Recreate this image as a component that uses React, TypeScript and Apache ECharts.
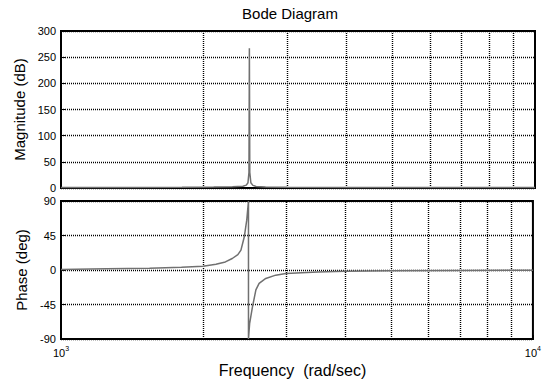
import React, { useEffect, useRef } from "react";
import * as echarts from "echarts";

// Magnitude trace (frequency in rad/sec, magnitude in dB)
const magFreq = [1000, 1400, 1800, 2100, 2300, 2420, 2460, 2480, 2492, 2497, 2502, 2515, 2540, 2580, 2700, 3000, 4000, 6000, 10000];
const magDb = [0.8, 1.0, 1.3, 1.7, 2.2, 3.2, 5.5, 10, 30, 267, 30, 10, 5, 3, 2.0, 1.5, 1.1, 0.9, 0.8];

// Phase trace (frequency in rad/sec, phase in deg)
const phaseFreq = [1000, 1250, 1540, 1800, 2000, 2130, 2230, 2306, 2370, 2406, 2445, 2475, 2496, 2496, 2510, 2545, 2588, 2629, 2716, 2851, 2994, 3500, 4006, 5000, 7000, 10000];
const phaseDeg = [0.8, 1.5, 2.4, 3.6, 5.0, 7.6, 10.5, 15, 20, 26, 43, 65, 90, -90, -70, -48, -26, -17.5, -11, -6.7, -4.5, -2.5, -1.5, -1.0, -0.6, -0.3];

// Minor decade grid lines
const minorGridFreq = [2000, 3000, 4000, 5000, 6000, 7000, 8000, 9000];

const FONT = "Liberation Sans, Arial, Helvetica, sans-serif";
const LINE_COLOR = "#707070";

export default function App() {
  const ref = useRef<HTMLDivElement>(null);

  useEffect(() => {
    document.body.style.margin = "0";
    if (!ref.current) return;
    const chart = echarts.init(ref.current, null, { renderer: "svg" });

    const gridLine = { show: true, lineStyle: { color: "#000", type: [1, 1] as any, width: 1.4 } };
    const markGrid = {
      silent: true,
      symbol: ["none", "none"],
      label: { show: false },
      lineStyle: { color: "#000", type: [1, 1] as any, width: 1.4 },
      emphasis: { disabled: true },
      animation: false,
      data: minorGridFreq.map((f) => ({ xAxis: f })),
    };

    const xBase = {
      type: "log" as const,
      logBase: 10,
      min: 1000,
      max: 10000,
      axisLine: { show: true, onZero: false, lineStyle: { color: "#000", width: 2 } },
      axisTick: { show: true, inside: true, length: 4, lineStyle: { color: "#000" } },
      splitLine: { show: false },
      minorTick: { show: false },
    };

    const option: any = {
      animation: false,
      backgroundColor: "#fff",
      textStyle: { fontFamily: FONT },
      title: {
        text: "Bode Diagram",
        left: 290,
        top: 6,
        textAlign: "center",
        padding: 0,
        textStyle: { fontSize: 15, fontWeight: "normal", color: "#000", fontFamily: FONT },
      },
      grid: [
        { left: 61, right: 9, top: 31, height: 157, show: true, borderColor: "#000", borderWidth: 2, backgroundColor: "#fff" },
        { left: 61, right: 9, top: 201, height: 138, show: true, borderColor: "#000", borderWidth: 2, backgroundColor: "#fff" },
      ],
      xAxis: [
        { ...xBase, gridIndex: 0, axisLabel: { show: false } },
        {
          ...xBase,
          gridIndex: 1,
          name: "Frequency  (rad/sec)",
          nameLocation: "middle",
          nameGap: 23,
          nameTextStyle: { fontSize: 16, color: "#000", fontFamily: FONT, padding: [0, 9, 0, 0] },
          axisLabel: {
            show: true,
            showMinLabel: true,
            showMaxLabel: true,
            margin: 6,
            formatter: (v: number) => `{b|10}{e|${Math.round(Math.log10(v))}}`,
            rich: {
              b: { fontSize: 11, lineHeight: 16, color: "#000", fontFamily: FONT },
              e: { fontSize: 7, lineHeight: 8, verticalAlign: "top", color: "#000", fontFamily: FONT },
            },
          },
        },
      ],
      yAxis: [
        {
          type: "value",
          gridIndex: 0,
          min: 0,
          max: 300,
          interval: 50,
          name: "Magnitude (dB)",
          nameLocation: "middle",
          nameRotate: 90,
          nameGap: 34,
          nameTextStyle: { fontSize: 15, color: "#000", fontFamily: FONT },
          axisLine: { show: true, lineStyle: { color: "#000", width: 2 } },
          axisTick: { show: true, inside: true, length: 4, lineStyle: { color: "#000" } },
          axisLabel: { fontSize: 11, color: "#000", margin: 5, fontFamily: FONT },
          splitLine: gridLine,
        },
        {
          type: "value",
          gridIndex: 1,
          min: -90,
          max: 90,
          interval: 45,
          name: "Phase (deg)",
          nameLocation: "middle",
          nameRotate: 90,
          nameGap: 29,
          nameTextStyle: { fontSize: 15, color: "#000", fontFamily: FONT },
          axisLine: { show: true, onZero: false, lineStyle: { color: "#000", width: 2 } },
          axisTick: { show: true, inside: true, length: 4, lineStyle: { color: "#000" } },
          axisLabel: { fontSize: 11, color: "#000", margin: 5, fontFamily: FONT },
          splitLine: gridLine,
        },
      ],
      series: [
        {
          type: "line",
          xAxisIndex: 0,
          yAxisIndex: 0,
          data: magFreq.map((f, i) => [f, magDb[i]]),
          showSymbol: false,
          symbol: "none",
          lineStyle: { color: LINE_COLOR, width: 1.5 },
          clip: true,
          silent: true,
          z: 3,
          markLine: { ...markGrid, z: 1 },
        },
        {
          type: "line",
          xAxisIndex: 1,
          yAxisIndex: 1,
          data: phaseFreq.map((f, i) => [f, phaseDeg[i]]),
          showSymbol: false,
          symbol: "none",
          lineStyle: { color: LINE_COLOR, width: 1.5 },
          clip: true,
          silent: true,
          z: 3,
          markLine: { ...markGrid, z: 1 },
        },
      ],
    };

    chart.setOption(option);
    return () => chart.dispose();
  }, []);

  return <div ref={ref} style={{ position: "absolute", left: 0, top: 0, width: 544, height: 381 }} />;
}
